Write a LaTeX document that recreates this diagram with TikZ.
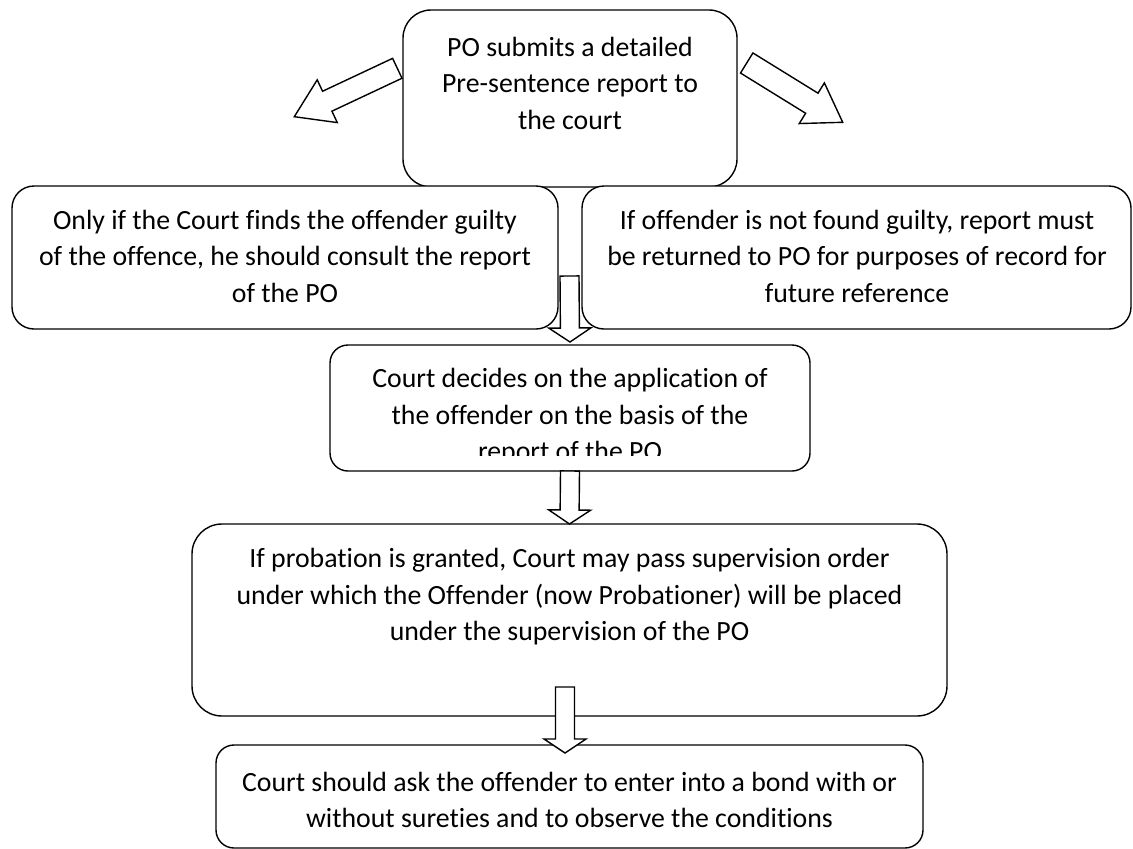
\documentclass[tikz,border=0pt]{standalone}
\usepackage{fontspec}
\setmainfont{Carlito}[Ligatures=CommonOff]
\usetikzlibrary{calc}
\tikzset{
  box/.style={draw=black, line width=1.4pt, fill=white, rounded corners=#1,
    inner sep=0pt, outer sep=0pt},
  box/.default=20pt,
  lbl/.style={align=center, font=\fontsize{27.8}{36.5}\selectfont, inner sep=0pt},
  blk/.style={draw=black, line width=1.4pt, fill=white, line join=miter}
}
\newcommand\blockarrow[5]{%
  \coordinate (ba-s) at (#1);
  \coordinate (ba-t) at (#2);
  \coordinate (ba-h) at ($(ba-t)!#5!(ba-s)$);
  \draw[blk] ($(ba-s)!#3!90:(ba-t)$) -- ($(ba-h)!#3!90:(ba-t)$)
    -- ($(ba-h)!#4!90:(ba-t)$) -- (ba-t) -- ($(ba-h)!#4!-90:(ba-t)$)
    -- ($(ba-h)!#3!-90:(ba-t)$) -- ($(ba-s)!#3!-90:(ba-t)$) -- cycle;
}
\begin{document}
\begin{tikzpicture}[x=1pt,y=-1pt]
\useasboundingbox (0,0) rectangle (1133,849);
% boxes
\node[box=28pt, minimum width=334pt, minimum height=177pt] (b1) at (570,98.5) {};
\node[box=22pt, minimum width=546pt, minimum height=143pt] (b2) at (285,257.5) {};
\node[box=22pt, minimum width=549pt, minimum height=143pt] (b2r) at (856.5,257.5) {};
\node[box=18pt, minimum width=480pt, minimum height=126pt] (b3) at (570,408) {};
\node[box=30pt, minimum width=755pt, minimum height=192pt] (b4) at (569.5,620) {};
\node[box=18pt, minimum width=707pt, minimum height=103pt] (b5) at (569.5,796.5) {};
% texts
\node[lbl] (t1) at (570,83) {PO submits a detailed\\Pre-sentence report to\\the court};
\node[lbl] (t2) at (285,256) {Only if the Court finds the offender guilty\\of the offence, he should consult the report\\of the PO};
\node[lbl] (t2r) at (857,256) {If offender is not found guilty, report must\\be returned to PO for purposes of record for\\future reference};
\begin{scope}
\clip (330,345) rectangle (810,455);
\node[lbl] (t3) at (570,417) {Court decides on the application of\\the offender on the basis of the\\report of the PO};
\end{scope}
\node[lbl] (t4) at (569.5,597) {If probation is granted, Court may pass supervision order\\under which the Offender (now Probationer) will be placed\\under the supervision of the PO};
\node[lbl] (t5) at (569.5,800) {Court should ask the offender to enter into a bond with or\\without sureties and to observe the conditions};
% arrow end points
\coordinate (aLs) at (397.3,68.3);
\coordinate (aLt) at (294.3,116.7);
\coordinate (aRs) at (746.7,63);
\coordinate (aRt) at (842.7,122.3);
\coordinate (a1s) at (569.5,276);
\coordinate (a1t) at ($(b3.north)+(0,-3)$);
\coordinate (a2s) at (b3.south);
\coordinate (a2t) at (b4.north);
\coordinate (a3s) at (565,687);
\coordinate (a3t) at ($(b5.north)+(-4.5,8)$);
% block arrows
\blockarrow{aLs}{aLt}{11pt}{23.6pt}{36.4pt}
\blockarrow{aRs}{aRt}{11.8pt}{23.9pt}{36.3pt}
\blockarrow{a1s}{a1t}{9.5pt}{21pt}{14pt}
\blockarrow{a2s}{a2t}{9.5pt}{21pt}{14pt}
\blockarrow{a3s}{a3t}{9.5pt}{21pt}{14pt}
\end{tikzpicture}
\end{document}
